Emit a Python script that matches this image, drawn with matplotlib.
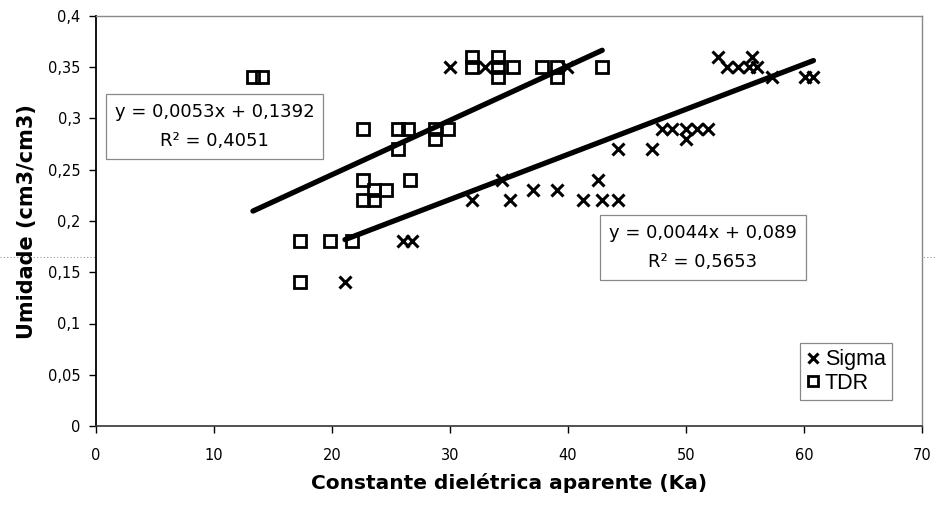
import matplotlib
matplotlib.use("Agg")
import matplotlib.pyplot as plt
import numpy as np
from matplotlib.lines import Line2D

# Moisture vs apparent dielectric constant, two sensors
sigma_x = [21.1, 26.0, 26.8, 30.0, 31.9, 33.0, 34.4, 35.1, 37.0, 39.1,
           39.9, 41.3, 42.5, 42.9, 44.2, 44.2, 47.1, 48.0, 48.8, 50.0,
           50.0, 50.9, 51.9, 52.7, 53.5, 54.4, 55.3, 55.6, 56.0, 57.3,
           60.1, 60.8]
sigma_y = [0.14, 0.18, 0.18, 0.35, 0.22, 0.35, 0.24, 0.22, 0.23, 0.23,
           0.35, 0.22, 0.24, 0.22, 0.22, 0.27, 0.27, 0.29, 0.29, 0.29,
           0.28, 0.29, 0.29, 0.36, 0.35, 0.35, 0.35, 0.36, 0.35, 0.34,
           0.34, 0.34]

tdr_x = [13.3, 14.1, 17.3, 17.3, 19.8, 21.7, 22.6, 22.6, 23.6, 24.6,
         22.6, 23.6, 25.6, 25.6, 26.4, 26.6, 28.7, 28.7, 29.8, 31.9,
         31.9, 34.1, 34.1, 34.1, 35.3, 37.8, 39.1, 39.1, 42.9]
tdr_y = [0.34, 0.34, 0.18, 0.14, 0.18, 0.18, 0.29, 0.24, 0.23, 0.23,
         0.22, 0.22, 0.29, 0.27, 0.29, 0.24, 0.29, 0.28, 0.29, 0.36,
         0.35, 0.36, 0.35, 0.34, 0.35, 0.35, 0.35, 0.34, 0.35]

# Linear trend lines (slope, intercept, R²)
sigma_fit = (0.0044, 0.089, 0.5653)
tdr_fit = (0.0053, 0.1392, 0.4051)

x_ticks = [0, 10, 20, 30, 40, 50, 60, 70]
x_tick_labels = ["0", "10", "20", "30", "40", "50", "60", "70"]
y_ticks = [0, 0.05, 0.1, 0.15, 0.2, 0.25, 0.3, 0.35, 0.4]
y_tick_labels = ["0", "0,05", "0,1", "0,15", "0,2", "0,25", "0,3", "0,35", "0,4"]


def br(v):
    return str(v).replace(".", ",")


def equation(fit):
    slope, intercept, r2 = fit
    return f"y = {br(slope)}x + {br(intercept)}\nR² = {br(r2)}"


W, H = 935, 507
fig = plt.figure(figsize=(W / 100, H / 100), dpi=100)
L, R, T, B = 96, 922, 16, 426
ax = fig.add_axes([L / W, 1 - B / H, (R - L) / W, (B - T) / H])

ax.plot(sigma_x, sigma_y, linestyle="none", marker="x", ms=9, mew=2.2,
        color="black", label="Sigma", zorder=3)
ax.plot(tdr_x, tdr_y, linestyle="none", marker="s", ms=8, mfc="none",
        mec="black", mew=2.0, label="TDR", zorder=3)

for xs, fit in ((sigma_x, sigma_fit), (tdr_x, tdr_fit)):
    xx = np.array([min(xs), max(xs)])
    ax.plot(xx, fit[0] * xx + fit[1], color="black", lw=3.8,
            solid_capstyle="round", zorder=4)

ax.set_xlim(0, 70)
ax.set_ylim(0, 0.4)
ax.set_xticks(x_ticks)
ax.set_xticklabels(x_tick_labels)
ax.set_yticks(y_ticks)
ax.set_yticklabels(y_tick_labels)
ax.tick_params(axis="both", direction="out", length=5, width=1,
               labelsize=10.5, colors="black")
ax.tick_params(axis="x", pad=11)
ax.tick_params(axis="y", pad=6)

ax.spines["left"].set_color("black")
ax.spines["left"].set_linewidth(1.3)
ax.spines["bottom"].set_color("#333333")
ax.spines["bottom"].set_linewidth(1.2)
for s in ("top", "right"):
    ax.spines[s].set_color("#888888")
    ax.spines[s].set_linewidth(1.0)

box = dict(boxstyle="square,pad=0.5", fc="white", ec="#888888", lw=0.9)
ax.text((214.5 - L) / (R - L), (B - 126.5) / (B - T), equation(tdr_fit),
        transform=ax.transAxes, ha="center", va="center", fontsize=13,
        linespacing=1.75, bbox=box, zorder=5)
ax.text((703 - L) / (R - L), (B - 247.5) / (B - T), equation(sigma_fit),
        transform=ax.transAxes, ha="center", va="center", fontsize=13,
        linespacing=1.75, bbox=box, zorder=5)

leg = ax.legend(loc="lower right",
                bbox_to_anchor=((892 - L) / (R - L), (B - 400) / (B - T)),
                frameon=True, fancybox=False, edgecolor="#888888",
                framealpha=1, prop={"family": "Liberation Sans", "size": 15.5},
                handlelength=0.6, handletextpad=0.25, borderpad=0.3,
                labelspacing=0.1, markerscale=0.85, borderaxespad=0)
leg.get_frame().set_linewidth(0.9)

fig.text((L + R) / 2 / W, 1 - 483 / H, "Constante dielétrica aparente (Ka)",
         ha="center", va="center", fontsize=14.5, fontweight="bold")
fig.text(27 / W, 1 - 222 / H, "Umidade (cm3/cm3)", rotation=90,
         ha="center", va="center", fontsize=15, fontweight="bold")

# faint dotted rule running across the sheet
fig.add_artist(Line2D([0, 1], [1 - 257 / H, 1 - 257 / H],
                      transform=fig.transFigure, linestyle=(0, (1, 2)),
                      color="#999999", lw=0.8, zorder=0))

fig.savefig("out.png", dpi=100)
